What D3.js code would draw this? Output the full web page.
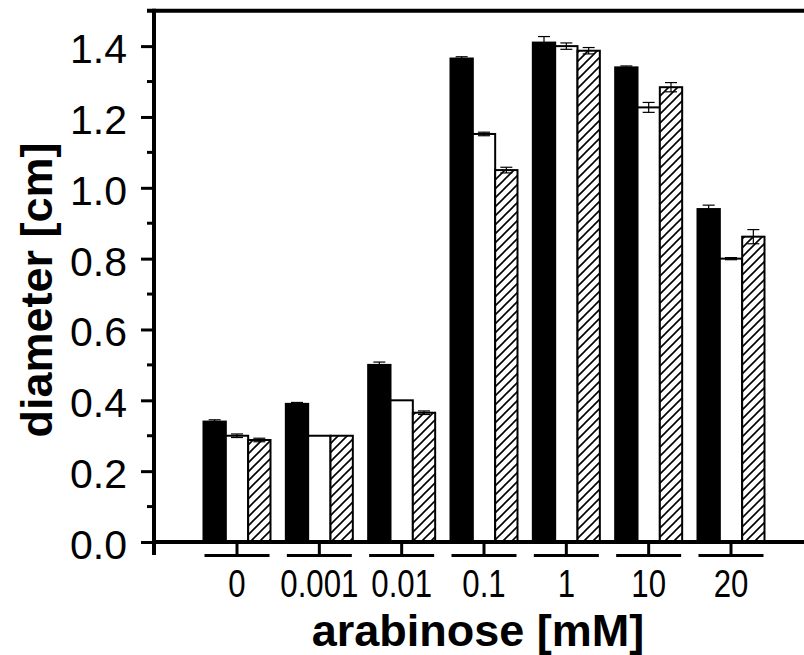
<!DOCTYPE html>
<html><head><meta charset="utf-8">
<script src="https://cdn.jsdelivr.net/npm/d3@7"></script>
<style>body{margin:0;background:#fff}svg{display:block}</style>
</head><body>
<svg id="chart" width="804" height="655"></svg>
<script>
const categories = ["0","0.001","0.01","0.1","1","10","20"];
const seriesNames = ["black","white","hatched"];
const blackVals = [0.34,0.39,0.50,1.365,1.41,1.34,0.94];
const whiteVals = [0.30,0.30,0.40,1.152,1.40,1.227,0.80];
const hatchVals = [0.288,0.30,0.365,1.05,1.387,1.284,0.862];
const blackErr = [0.005,0.004,0.008,0.005,0.017,0.004,0.011];
const whiteErr = [0.005,0,0,0.005,0.009,0.014,0.003];
const hatchErr = [0.005,0,0.005,0.008,0.009,0.013,0.02];
const yTicks = [0,0.2,0.4,0.6,0.8,1.0,1.2,1.4];
const yMinorTicks = [0.1,0.3,0.5,0.7,0.9,1.1,1.3];

const svg = d3.select("#chart");
const x0 = 154, x1 = 804, yTop = 10.7, yBot = 542;
const y = d3.scaleLinear().domain([0,1.5]).range([yBot, yTop]);
const xc = d3.scalePoint().domain(categories).range([237, 731]);
const xs = d3.scaleBand().domain(seriesNames).range([-33.5, 33.5]);

const defs = svg.append("defs");
const pat = defs.append("pattern").attr("id","hatch").attr("patternUnits","userSpaceOnUse")
  .attr("width",9).attr("height",9);
pat.append("rect").attr("width",9).attr("height",9).attr("fill","#fff");
pat.append("path").attr("d","M-2,11 L11,-2 M-2,2 L2,-2 M7,11 L11,7").attr("stroke","#000").attr("stroke-width",1.6);

const data = [];
categories.forEach((c,i)=>{
  data.push({c, s:"black", v:blackVals[i], e:blackErr[i]});
  data.push({c, s:"white", v:whiteVals[i], e:whiteErr[i]});
  data.push({c, s:"hatched", v:hatchVals[i], e:hatchErr[i]});
});
const fills = {black:"#000", white:"#fff", hatched:"url(#hatch)"};

function drawErr(g, list){
  list.forEach(d=>{
    const cx = xc(d.c) + xs(d.s) + xs.bandwidth()/2;
    if (d.e<=0) return;
    const yt = y(d.v+d.e), yb = y(d.v-d.e);
    g.append("line").attr("x1",cx).attr("x2",cx).attr("y1",yt).attr("y2",yb);
    g.append("line").attr("x1",cx-6).attr("x2",cx+6).attr("y1",yt).attr("y2",yt);
    g.append("line").attr("x1",cx-6).attr("x2",cx+6).attr("y1",yb).attr("y2",yb);
  });
}
drawErr(svg.append("g").attr("stroke","#000").attr("stroke-width",1.2), data.filter(d=>d.s==="black"));

svg.append("g").selectAll("rect").data(data).join("rect")
  .attr("x", d=>xc(d.c)+xs(d.s))
  .attr("width", xs.bandwidth())
  .attr("y", d=>y(d.v))
  .attr("height", d=>yBot - y(d.v))
  .attr("fill", d=>fills[d.s])
  .attr("stroke","#000").attr("stroke-width",2);

drawErr(svg.append("g").attr("stroke","#000").attr("stroke-width",1.2), data.filter(d=>d.s!=="black"));

// top frame
svg.append("line").attr("x1",147).attr("x2",804).attr("y1",yTop).attr("y2",yTop)
  .attr("stroke","#000").attr("stroke-width",4);

// y axis
const yAxis = d3.axisLeft(y).tickValues(yTicks).tickFormat(d3.format(".1f"))
  .tickSize(13).tickPadding(14);
const gy = svg.append("g").attr("transform",`translate(${x0},0)`).call(yAxis);
gy.select(".domain").remove();
gy.selectAll(".tick line").attr("stroke","#000").attr("stroke-width",3);
gy.selectAll(".tick text").attr("font-family","'Liberation Sans', Arial, sans-serif")
  .attr("font-size",41).attr("fill","#000").attr("dy","0.4em");
svg.append("g").attr("transform",`translate(${x0},0)`)
  .selectAll("line").data(yMinorTicks).join("line")
  .attr("x1",-7).attr("x2",0).attr("y1",d=>y(d)).attr("y2",d=>y(d))
  .attr("stroke","#000").attr("stroke-width",3);
svg.append("line").attr("x1",x0).attr("x2",x0).attr("y1",yTop-2).attr("y2",555)
  .attr("stroke","#000").attr("stroke-width",4);

// x axis
svg.append("line").attr("x1",x0).attr("x2",x1).attr("y1",yBot).attr("y2",yBot)
  .attr("stroke","#000").attr("stroke-width",4);
const gx = svg.append("g");
const tk = gx.selectAll("g").data(categories).join("g")
  .attr("transform", d=>`translate(${xc(d)},0)`);
tk.append("line").attr("x1",0).attr("x2",0).attr("y1",yBot).attr("y2",556)
  .attr("stroke","#000").attr("stroke-width",3);
tk.append("line").attr("x1",-32.5).attr("x2",32.5).attr("y1",555.5).attr("y2",555.5)
  .attr("stroke","#000").attr("stroke-width",3);
tk.append("text").attr("transform","translate(0,597) scale(0.8,1)").attr("text-anchor","middle")
  .attr("font-family","'Liberation Sans', Arial, sans-serif")
  .attr("font-size",39).attr("fill","#000").text(d=>d);

// axis titles
svg.append("text").attr("x",478).attr("y",646).attr("text-anchor","middle")
  .attr("font-family","'Liberation Sans', Arial, sans-serif").attr("font-weight","bold")
  .attr("font-size",45).text("arabinose [mM]");
svg.append("text").attr("transform","translate(52,290) rotate(-90)").attr("text-anchor","middle")
  .attr("font-family","'Liberation Sans', Arial, sans-serif").attr("font-weight","bold")
  .attr("font-size",45).text("diameter [cm]");
</script>
</body></html>
